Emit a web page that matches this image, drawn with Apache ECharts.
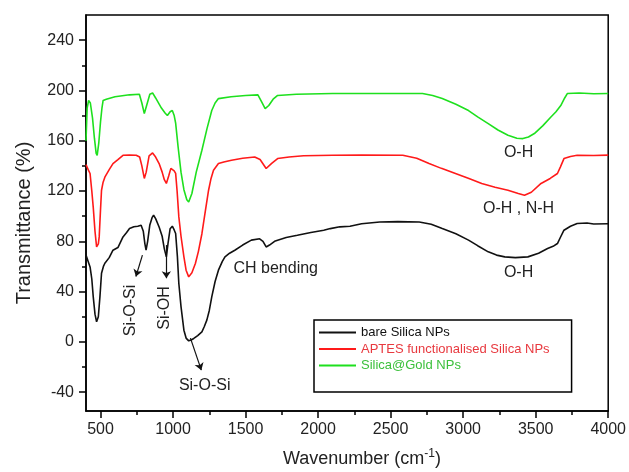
<!DOCTYPE html>
<html><head><meta charset="utf-8">
<script src="https://cdn.jsdelivr.net/npm/echarts@6/dist/echarts.min.js"></script>
<style>html,body{margin:0;padding:0;background:#fff}#c{width:629px;height:472px}</style>
</head><body><div id="c"></div>
<script>
// ---- ticks ----
const xTicks = [500,1000,1500,2000,2500,3000,3500,4000];
const xMinor = [750,1250,1750,2250,2750,3250,3750];
const yTicks = [-40,0,40,80,120,160,200,240];
const yMinor = [-20,20,60,100,140,180,220];

// ---- series ----
const seriesNames = ['bare Silica NPs','APTES functionalised Silica NPs','Silica@Gold NPs'];

const bareWN = [400,415,428,440,450,462,473,485,496,507,520,530,560,586,620,655,680,700,730,757,780,795,806,814,825,840,856,866,880,904,925,940,954,965,980,995,1008,1018,1030,1040,1055,1075,1090,1108,1125,1143,1170,1199,1215,1233,1250,1267,1290,1313,1340,1358,1390,1426,1480,1540,1597,1620,1642,1665,1700,1721,1780,1857,1950,2039,2084,2150,2220,2300,2425,2550,2697,2780,2856,2950,3037,3100,3173,3230,3287,3360,3446,3520,3582,3620,3650,3670,3695,3740,3786,3854,3900,4000];
const bareT = [69,64,59.6,50,35.8,22,15.9,20,35.8,54.6,60,62.5,67,72.9,75,83.5,87,90.1,91.5,92,92.8,88,78,72.9,80,93,99,100.7,98,91.4,84,74,67.6,78,90,92,89,86.2,68,46.4,28,9.3,3,0.8,1.5,2.7,5,8,12,17.3,25,35.8,48,57,64,67.6,70.5,72.9,77,80.9,82,80,75.5,77,80,80.9,83,84.8,87,88.8,90.1,91.5,92,94,95.4,95.6,95.4,93.5,90.1,86,80.9,76.5,71.6,69,67.6,67,67.6,70.5,74.2,76,78.2,83,88.8,92,94.1,94.5,93.8,94];

const aptesWN = [400,415,428,440,450,462,473,485,491,500,507,518,530,560,586,620,655,700,746,770,785,802,815,835,859,880,904,925,940,954,970,985,995,1008,1018,1028,1040,1055,1075,1090,1108,1130,1154,1175,1199,1220,1245,1262,1279,1313,1350,1403,1480,1563,1600,1642,1680,1721,1800,1900,2100,2300,2584,2680,2765,2850,2947,3040,3128,3220,3309,3380,3423,3470,3537,3600,3650,3670,3695,3740,3786,3900,4000];
const aptesT = [141,137,133.9,120,107,88,75.5,78,83.5,105,120.6,127,131,137,141.8,145,148.4,148.5,148.4,147,140,130,135,148,150.3,147,141.8,135,129,126,132,138,139,136,134,120,99.4,84,67.6,57,51.7,55,62.3,72,86,102,120.6,130,136.5,141.8,143,144.5,146,147,145,137.9,142,145.8,147,148,148.4,148.6,148.4,146,141.8,138,133.9,130,126,123,120.6,118,116.6,119,126,130,133.9,139,145.8,147.5,148.4,148.2,148.5];

const goldWN = [400,408,418,430,445,458,470,477,488,500,510,518,540,600,700,768,785,802,818,840,859,880,920,945,961,980,995,1008,1018,1035,1055,1075,1095,1108,1130,1160,1199,1235,1267,1290,1313,1400,1500,1585,1610,1635,1660,1690,1721,1850,2100,2400,2720,2790,2856,2950,3037,3100,3173,3240,3309,3370,3412,3450,3491,3550,3605,3640,3673,3700,3718,3800,3900,4000];
const goldT = [160,186,192,190,178,162,150,148.4,158,175,186,192,193,195,196.5,197,190,181.6,188,197,198,194,186,182,180,183,184,180,174,155,135,121,113,111.3,118,135,152.4,170,184,190,193.5,195,196,196.5,191,185.5,188,193,196,197,197.5,197.5,197.5,196,193.5,189,184,179,173.6,168.5,164.3,162,161.7,163,165.7,172,178.9,183,188,194,197.5,198,197.3,197.5];

// ---- annotations (data coordinates) ----
const labelTexts = ['Si-O-Si','Si-OH','Si-O-Si','CH bending','O-H','O-H , N-H','O-H'];
const labelWN    = [707, 945, 1218, 1708, 3382, 3382, 3382];
const labelT     = [25, 27, -34.5, 58.6, 150.8, 106, 55];
const labelRot   = [true, true, false, false, false, false, false];
const arrowFrom  = [[789,69],[954,77],[1120,3]];
const arrowTo    = [[744,52],[954,50.6],[1195,-22.5]];

const FONT = "'Liberation Sans', Arial, Helvetica, sans-serif";
const colors = ['#111111','#ff1a1a','#1ee01e'];
const legendTextColors = ['#111111','#e8393f','#3cc03c'];

const pairs = (xs, ys) => xs.map((x,i)=>[x, ys[i]]);
const plain = v => String(v);

const chart = echarts.init(document.getElementById('c'), null, {renderer:'canvas'});

const axisLineStyle = {color:'#000', width:1.5};
const option = {
  animation:false,
  backgroundColor:'#fff',
  grid:{left:86, right:14, top:15, bottom:61, show:true, borderColor:'#000', borderWidth:1.5, containLabel:false},
  xAxis:[
    {type:'value', min:400, max:4000, position:'bottom',
     axisLine:{show:true, onZero:false, lineStyle:axisLineStyle},
     axisTick:{show:true, customValues:xTicks, length:7, lineStyle:{color:'#000', width:1.5}},
     axisLabel:{customValues:xTicks, formatter:plain, fontSize:16, color:'#222', margin:11, fontFamily:FONT},
     splitLine:{show:false}},
    {type:'value', min:400, max:4000, position:'bottom',
     axisLine:{show:false, onZero:false},
     axisTick:{show:true, customValues:xMinor, length:4, lineStyle:{color:'#000', width:1.5}},
     axisLabel:{show:false}, splitLine:{show:false}}
  ],
  yAxis:[
    {type:'value', min:-55, max:260, position:'left',
     axisLine:{show:true, onZero:false, lineStyle:axisLineStyle},
     axisTick:{show:true, customValues:yTicks, length:7, lineStyle:{color:'#000', width:1.5}},
     axisLabel:{customValues:yTicks, formatter:plain, fontSize:16, color:'#222', margin:12, fontFamily:FONT},
     splitLine:{show:false}},
    {type:'value', min:-55, max:260, position:'left',
     axisLine:{show:false, onZero:false},
     axisTick:{show:true, customValues:yMinor, length:4, lineStyle:{color:'#000', width:1.5}},
     axisLabel:{show:false}, splitLine:{show:false}}
  ],
  legend:{
    orient:'vertical', left:314, top:320, padding:[6,22,20,4],
    itemWidth:37, itemHeight:14, itemGap:3.5, itemTextGap:2,
    borderColor:'#000', borderWidth:1.5, backgroundColor:'#fff',
    itemStyle:{opacity:0, borderWidth:0},
    lineStyle:{width:2},
    textStyle:{fontSize:13, fontFamily:FONT},
    data: seriesNames.map((n,i)=>({name:n, textStyle:{color:legendTextColors[i]}}))
  },
  series:[
    {name:seriesNames[0], type:'line', data:pairs(bareWN,bareT), symbol:'none', color:colors[0],
     lineStyle:{width:1.6, color:colors[0]},
     markLine:{silent:true, symbol:['none','arrow'], symbolSize:7, animation:false,
       lineStyle:{color:'#111', width:1.2, type:'solid'}, label:{show:false},
       emphasis:{disabled:true},
       data: arrowFrom.map((a,i)=>[{coord:a},{coord:arrowTo[i]}])}},
    {name:seriesNames[1], type:'line', data:pairs(aptesWN,aptesT), symbol:'none', color:colors[1],
     lineStyle:{width:1.6, color:colors[1]}},
    {name:seriesNames[2], type:'line', data:pairs(goldWN,goldT), symbol:'none', color:colors[2],
     lineStyle:{width:1.6, color:colors[2]}}
  ]
};
chart.setOption(option);

const graphics = labelTexts.map((t,i)=>{
  const p = chart.convertToPixel({seriesIndex:0}, [labelWN[i], labelT[i]]);
  return {type:'text', x:p[0], y:p[1], rotation: labelRot[i] ? Math.PI/2 : 0, z:100,
    style:{text:t, fill:'#222', font:"16px "+FONT, align:'center', verticalAlign:'middle'}};
});
graphics.push({type:'text', x:362, y:459, z:100,
  style:{text:'Wavenumber (cm{sup|-1})', fill:'#222', font:"18px "+FONT, align:'center', verticalAlign:'middle',
    rich:{sup:{fontSize:12, fontFamily:FONT, fill:'#222', padding:[0,0,10,0]}}}});
graphics.push({type:'text', x:24, y:223, rotation:Math.PI/2, z:100,
  style:{text:'Transmittance (%)', fill:'#222', font:"20px "+FONT, align:'center', verticalAlign:'middle'}});
chart.setOption({graphic:graphics});
</script></body></html>
